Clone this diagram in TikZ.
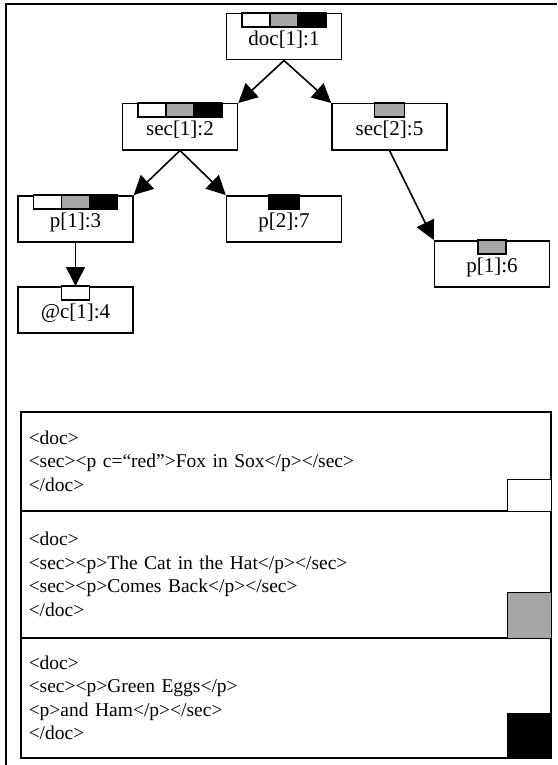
\documentclass[tikz,border=0pt]{standalone}
\usepackage{fontspec}
\setmainfont{Liberation Serif}
\usetikzlibrary{arrows.meta}

\begin{document}
\begin{tikzpicture}[x=1pt,y=-1pt,>={Triangle[length=19pt,width=19pt]},
elem/.style={draw,line width=1.5pt,anchor=north,minimum width=115pt,inner xsep=0pt,inner ysep=0pt,text height=32pt,text depth=14pt,font=\fontsize{21}{21}\selectfont},
edge/.style={->,line width=1.6pt},
wbar/.style={draw,line width=1.2pt,fill=white},
gbar/.style={draw,line width=1.2pt,fill=black!35},
kbar/.style={draw,line width=1.2pt,fill=black},
docbox/.style={draw,line width=1.5pt,anchor=north west,text width=514pt,inner xsep=8pt,inner ysep=0pt,align=left,font=\fontsize{19.5}{23.5}\selectfont}]
\useasboundingbox (0,0) rectangle (557,765);
\draw[line width=1.6pt] (6,765) -- (6,4) -- (557,4);
% tree
\node[elem] (doc) at (284,13) {doc[1]:1};
\node[elem] (sec1) at (180,103) {sec[1]:2};
\node[elem] (sec2) at (389.5,103) {sec[2]:5};
\node[elem] (p1) at (75.5,195) {p[1]:3};
\node[elem] (p2) at (284,195) {p[2]:7};
\node[elem] (p6) at (492,240) {p[1]:6};
\node[elem] (c4) at (75.5,286) {@c[1]:4};
\foreach \n in {doc,sec1,p1} {
  \draw[wbar] ([xshift=-42pt]\n.north) rectangle ++(28,14);
  \draw[gbar] ([xshift=-14pt]\n.north) rectangle ++(28,14);
  \draw[kbar] ([xshift=14pt]\n.north) rectangle ++(28,14);
}
\draw[gbar] ([xshift=-15pt]sec2.north) rectangle ++(30,14);
\draw[kbar] ([xshift=-15pt]p2.north) rectangle ++(30,14);
\draw[gbar] ([xshift=-14pt]p6.north) rectangle ++(28,14);
\draw[wbar] ([xshift=-14pt]c4.north) rectangle ++(28,14);
\draw[edge] (doc.south) -- (sec1.north east);
\draw[edge] (doc.south) -- (sec2.north west);
\draw[edge] (sec1.south) -- (p1.north east);
\draw[edge] (sec1.south) -- (p2.north west);
\draw[edge] (sec2.south) -- (p6.north west);
\draw[edge] (p1.south) -- (c4.north);
% documents
\node[docbox,minimum height=99pt] (ex1) at (20,411) {<doc>\\<sec><p c=“red”>Fox in Sox</p></sec>\\</doc>};
\node[docbox,minimum height=127pt] (ex2) at (20,510) {<doc>\\<sec><p>The Cat in the Hat</p></sec>\\<sec><p>Comes Back</p></sec>\\</doc>};
\node[docbox,minimum height=120pt] (ex3) at (20,637) {<doc>\\<sec><p>Green Eggs</p>\\<p>and Ham</p></sec>\\</doc>};
\draw[wbar,line width=1.5pt] (ex1.south east) rectangle ++(-44,-32);
\draw[gbar,line width=1.5pt] (ex2.south east) rectangle ++(-44,-46);
\draw[kbar,line width=1.5pt] (ex3.south east) rectangle ++(-44,-45);
\end{tikzpicture}
\end{document}
